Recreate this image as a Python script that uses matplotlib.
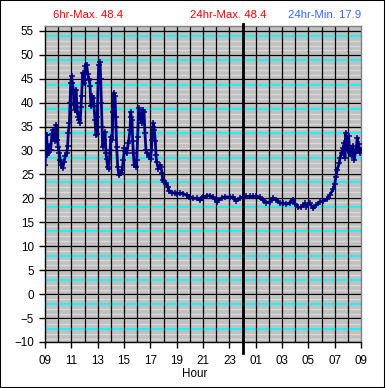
import matplotlib
matplotlib.use('Agg')
import matplotlib.pyplot as plt
from matplotlib.patches import Rectangle
import numpy as np

# hours since 09:00 and temperature
hours = [0.00, 0.08, 0.13, 0.18, 0.25, 0.33, 0.43, 0.53, 0.63, 0.73, 0.84, 0.94,
         1.01, 1.09, 1.16, 1.24, 1.34, 1.44, 1.54, 1.65, 1.72, 1.77, 1.85, 1.90,
         1.95, 2.03, 2.08, 2.15, 2.20, 2.28, 2.35, 2.41, 2.46, 2.53, 2.58, 2.66,
         2.73, 2.78, 2.86, 2.94, 2.99, 3.06, 3.16, 3.24, 3.32, 3.37, 3.42, 3.49,
         3.59, 3.67, 3.72, 3.80, 3.87, 3.92, 3.97, 4.03, 4.08, 4.18, 4.23, 4.28,
         4.33, 4.38, 4.48, 4.56, 4.63, 4.68, 4.76, 4.84, 4.94, 5.01, 5.11, 5.16,
         5.22, 5.32, 5.37, 5.39, 5.44, 5.52, 5.62, 5.75, 5.85, 5.95, 6.03, 6.10,
         6.20, 6.33, 6.46, 6.51, 6.56, 6.61, 6.66, 6.71, 6.78, 6.89, 6.96, 7.04,
         7.11, 7.22, 7.34, 7.42, 7.52, 7.59, 7.67, 7.77, 7.92, 8.03, 8.08, 8.13,
         8.18, 8.23, 8.30, 8.38, 8.43, 8.48, 8.61, 8.73, 8.81, 8.89, 8.94, 9.04,
         9.19, 9.32, 9.44, 9.62, 9.87, 10.05, 10.25, 10.51, 10.76, 10.96, 11.25, 11.51,
         11.76, 11.89, 12.01, 12.27, 12.52, 12.77, 13.03, 13.15, 13.41, 13.66, 14.04, 14.29,
         14.54, 14.80, 15.05, 15.30, 15.56, 15.81, 16.06, 16.32, 16.57, 16.82, 17.08, 17.33,
         17.58, 17.84, 18.09, 18.34, 18.59, 18.85, 18.97, 19.23, 19.48, 19.73, 19.86, 20.11,
         20.37, 20.62, 20.87, 21.13, 21.38, 21.63, 21.89, 22.01, 22.09, 22.19, 22.34, 22.41,
         22.53, 22.66, 22.73, 22.78, 22.84, 22.91, 22.99, 23.06, 23.11, 23.16, 23.29, 23.37,
         23.42, 23.49, 23.57, 23.62, 23.72, 23.77, 23.82, 23.92, 24.00]
temps = [26.9, 33.2, 33.2, 29.0, 29.4, 31.0, 30.2, 33.5, 34.3, 32.0, 35.3, 32.2,
         30.8, 29.4, 28.0, 26.9, 26.3, 27.5, 28.8, 29.4, 31.0, 33.6, 35.7, 39.9,
         44.0, 45.5, 44.0, 42.7, 39.5, 38.5, 42.7, 40.0, 38.1, 37.0, 36.4, 35.7,
         39.0, 41.3, 46.2, 44.0, 44.8, 47.6, 47.9, 46.0, 45.0, 44.8, 43.4, 39.2,
         41.3, 41.0, 39.2, 36.4, 33.2, 33.5, 37.0, 44.0, 47.9, 48.4, 45.0, 40.0,
         35.0, 30.8, 32.2, 33.8, 29.4, 28.3, 26.6, 26.2, 30.0, 32.9, 32.2, 38.0,
         42.0, 41.3, 37.0, 35.0, 30.8, 26.6, 24.8, 25.2, 25.9, 28.0, 30.5, 29.8,
         29.4, 31.5, 34.3, 38.1, 37.0, 36.4, 32.0, 29.4, 26.9, 26.6, 28.0, 32.9,
         38.8, 37.5, 35.7, 38.5, 38.0, 33.6, 30.0, 29.4, 28.7, 28.3, 30.0, 32.2,
         35.0, 35.7, 34.3, 32.0, 29.0, 27.6, 26.2, 26.9, 26.5, 25.2, 23.8, 23.4,
         23.2, 22.4, 21.5, 21.2, 21.1, 21.0, 21.1, 21.0, 20.6, 20.3, 20.0, 20.0,
         19.65, 20.0, 20.3, 20.5, 20.55, 20.3, 19.3, 19.6, 20.1, 20.3, 20.3, 20.2,
         19.5, 20.0, 20.3, 20.4, 20.4, 20.4, 20.45, 20.2, 19.65, 19.1, 19.3, 20.1,
         19.65, 19.0, 19.0, 18.75, 19.1, 19.65, 18.9, 18.1, 18.2, 19.0, 18.2, 19.0,
         17.9, 18.6, 19.3, 19.4, 19.8, 20.7, 21.9, 23.1, 24.5, 25.9, 27.3, 28.5,
         29.5, 30.6, 31.6, 28.5, 33.7, 32.3, 30.0, 33.0, 31.0, 29.5, 28.8, 31.0,
         30.2, 28.1, 29.5, 30.0, 32.7, 30.0, 31.3, 29.5, 30.2]

hour_labels = ['09', '11', '13', '15', '17', '19', '21', '23', '01', '03', '05', '07', '09']
max6 = 48.4
max24 = 48.4
min24 = 17.9

plt.rcParams['font.family'] = ['Liberation Sans', 'DejaVu Sans']

fig = plt.figure(figsize=(3.85, 3.88), dpi=100)
fig.set_facecolor('white')
ax = fig.add_axes([45/385, 46/388, 316/385, 316/388])
ax.set_facecolor('#c0c0c0')

ax.set_xlim(0, 24)
ax.set_ylim(-10, 56)

# striped background fill
stripes = 53.96 - 1.02 * np.arange(0, 66)
for i, s in enumerate(stripes):
    if s < -10:
        break
    if i % 5 == 0:
        ax.axhline(s, color='#00ffff', lw=1.3, zorder=0.5)
    else:
        ax.axhline(s, color='#d9d9d9', lw=1.0, zorder=0.5)

# grid
for h in range(1, 24):
    ax.axvline(h, color='black', lw=0.9, zorder=1)
for v in range(-5, 56, 5):
    ax.axhline(v, color='black', lw=0.9, zorder=1)

# midnight marker
ax.plot([15, 15], [-0.035, 1.007], color='black', lw=2.0,
        transform=ax.get_xaxis_transform(), clip_on=False, zorder=3)

ax.plot(hours, temps, color='#000080', lw=2.0, marker='+', ms=4, mew=1.1, zorder=4)

ax.set_yticks(range(-10, 56, 5))
ax.set_xticks(range(0, 25, 2))
ax.set_xticklabels(hour_labels)
ax.tick_params(axis='both', direction='out', length=4, width=1, color='black',
               labelsize=8.4, pad=4)
ax.tick_params(axis='x', pad=5)

for side in ['left', 'bottom']:
    ax.spines[side].set_color('black')
    ax.spines[side].set_linewidth(1)
for side in ['top', 'right']:
    ax.spines[side].set_color('#808080')
    ax.spines[side].set_linewidth(1)

fig.text(195/385, 1 - 374/388, 'Hour', ha='center', va='center', fontsize=8.4)
fig.text(88/385, 1 - 15/388, '6hr-Max. %.1f' % max6, ha='center', va='center',
         fontsize=8.2, color='#ff0000')
fig.text(228/385, 1 - 15/388, '24hr-Max. %.1f' % max24, ha='center', va='center',
         fontsize=8.2, color='#ff0000')
fig.text(325/385, 1 - 15/388, '24hr-Min. %.1f' % min24, ha='center', va='center',
         fontsize=8.2, color='#3366ff')

fig.patches.append(Rectangle((0, 0), 1, 1, fill=False, ec='black', lw=1.5,
                             transform=fig.transFigure, figure=fig))

plt.savefig('out.png', dpi=100)
